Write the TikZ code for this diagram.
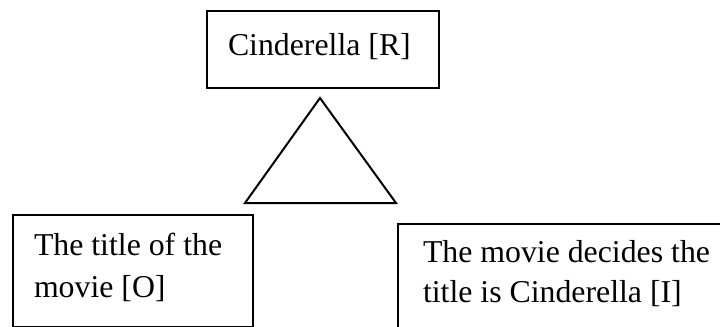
\documentclass[tikz,border=0pt]{standalone}
\usepackage{fontspec}
\setmainfont{Liberation Serif}
\begin{document}
\begin{tikzpicture}[x=0.5pt,y=-0.5pt,line width=1pt,
  box/.style={draw,rectangle,inner sep=0pt,anchor=north west},
  txt/.style={anchor=base west,inner sep=0pt,font=\fontsize{15.9}{21}\selectfont}]
\useasboundingbox (0,0) rectangle (720,327);
\clip (0,0) rectangle (720,327);

% top box: the representamen
\node[box,minimum width=116pt,minimum height=38.5pt] (rbox) at (206,10) {};
\node[txt] (rtext) at (227,55) {Cinderella [R]};

% semiotic triangle
\coordinate (apex) at (320,98);
\coordinate (bl) at (245,203);
\coordinate (br) at (396,203);
\draw (apex) -- (bl) -- (br) -- cycle;

% bottom left box: the object
\node[box,minimum width=120pt,minimum height=56pt] (obox) at (12,214) {};
\node[txt] (otext1) at (33,255) {The title of the};
\node[txt] (otext2) at (33,297) {movie [O]};

% bottom right box: the interpretant
\node[box,minimum width=181.5pt,minimum height=68.5pt] (ibox) at (397,223) {};
\node[txt] (itext1) at (422,262) {The movie decides the};
\node[txt] (itext2) at (422,302) {title is Cinderella [I]};
\end{tikzpicture}
\end{document}
